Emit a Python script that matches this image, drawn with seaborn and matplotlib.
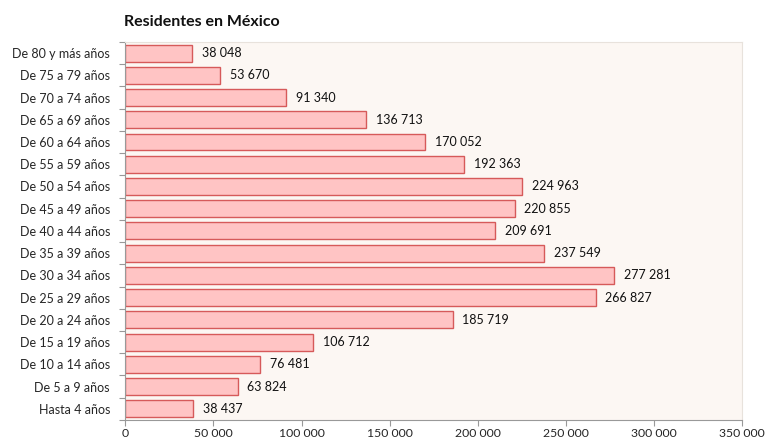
import pandas as pd
import seaborn as sns
import matplotlib.pyplot as plt
from matplotlib.ticker import FuncFormatter, MultipleLocator

grupos = [
    "De 80 y más años", "De 75 a 79 años", "De 70 a 74 años", "De 65 a 69 años",
    "De 60 a 64 años", "De 55 a 59 años", "De 50 a 54 años", "De 45 a 49 años",
    "De 40 a 44 años", "De 35 a 39 años", "De 30 a 34 años", "De 25 a 29 años",
    "De 20 a 24 años", "De 15 a 19 años", "De 10 a 14 años", "De 5 a 9 años",
    "Hasta 4 años",
]
residentes = [
    38048, 53670, 91340, 136713, 170052, 192363, 224963, 220855,
    209691, 237549, 277281, 266827, 185719, 106712, 76481, 63824, 38437,
]

df = pd.DataFrame({"grupo": grupos, "residentes": residentes})


def miles(v):
    return f"{int(v):,}".replace(",", " ")


sns.set_style("ticks")
plt.rcParams["font.family"] = ["Lato", "DejaVu Sans"]

fig = plt.figure(figsize=(7.78, 4.42), dpi=100)
ax = fig.add_axes([0.161, 0.05, 0.793, 0.855])
ax.set_facecolor("#FCF7F3")

sns.barplot(data=df, x="residentes", y="grupo", orient="h", ax=ax,
            color="#FFC4C4", edgecolor="#D65A5A", linewidth=1.0,
            width=0.76, saturation=1)

for i, v in enumerate(residentes):
    ax.text(v + 5500, i, miles(v), va="center", ha="left", fontsize=9,
            color="#111111")

ax.set_xlim(0, 350000)
ax.set_ylim(len(grupos) - 0.5, -0.5)
ax.xaxis.set_major_locator(MultipleLocator(50000))
ax.xaxis.set_major_formatter(FuncFormatter(lambda v, p: miles(v)))
ax.set_xlabel("")
ax.set_ylabel("")

# ticks at category boundaries, labels centred on the bars
ax.set_yticks([i + 0.5 for i in range(-1, len(grupos))], minor=False)
ax.set_yticklabels([])
ax.set_yticks(range(len(grupos)), minor=True)
ax.set_yticklabels(grupos, minor=True)
ax.tick_params(axis="y", which="minor", length=0, labelsize=9, pad=11)
ax.tick_params(axis="y", which="major", length=4, color="#999999")
ax.tick_params(axis="x", length=4, color="#999999", labelsize=8.8, pad=2)

for side in ["top", "right"]:
    ax.spines[side].set_visible(True)
    ax.spines[side].set_color("#E8E2DC")
    ax.spines[side].set_linewidth(0.8)
for side in ["left", "bottom"]:
    ax.spines[side].set_color("#999999")
    ax.spines[side].set_linewidth(0.8)

fig.text(0.159, 0.935, "Residentes en México", fontsize=11.5, fontweight="bold",
         ha="left", va="bottom", color="#111111")

fig.savefig("out.png", dpi=100)
